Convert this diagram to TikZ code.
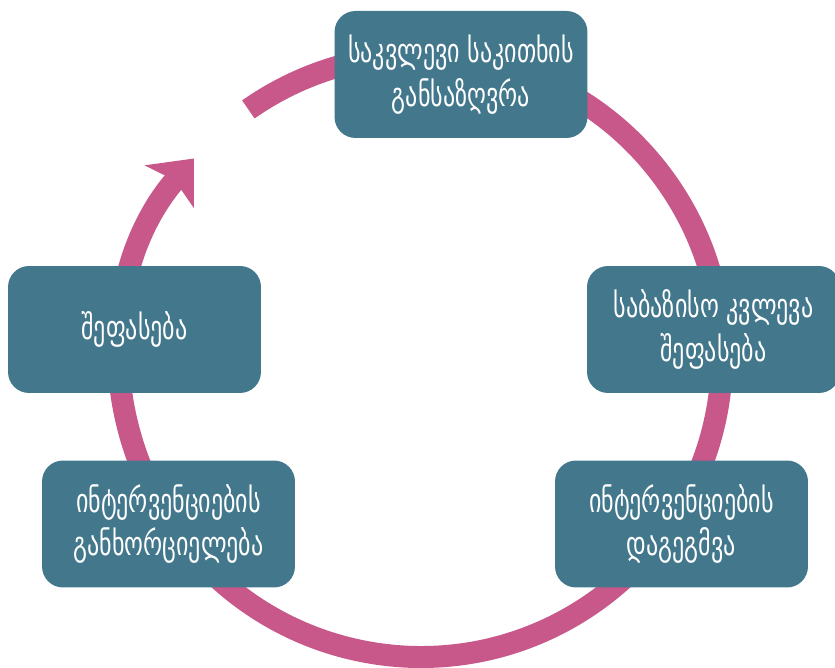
\documentclass[tikz,border=0pt]{standalone}
\usepackage{fontspec}
\usepackage{xcolor}
\usetikzlibrary{arrows.meta,calc,positioning}
\newfontfamily\geofont[Script=Georgian,FakeStretch=0.8]{DejaVu Sans Condensed}
\definecolor{boxteal}{HTML}{42778C}
\definecolor{ringpink}{HTML}{C8588A}

\begin{document}
\begin{tikzpicture}[x=0.02cm,y=0.02cm]
			\tikzstyle{stage}=[fill=boxteal,draw=none,rounded corners=0.42cm,minimum width=5.06cm,minimum height=2.54cm,text=white,align=center,font=\geofont\fontsize{19}{25}\selectfont]
			\tikzstyle{ring}=[draw=ringpink,line width=0.44cm]
			
			\clip (0,0) rectangle (835,668);
			\coordinate (c) at (421,312);
			\draw[ring,-{Stealth[length=0.74cm,width=1.28cm,inset=0.16cm]}] ($(c)+(125:301)$) arc[start angle=125,end angle=-221,radius=301];
			
			\node[stage] (define) at (461,593.5) {საკვლევი საკითხის\\განსაზღვრა};
			\node[stage] (baseline) at (713.5,338.5) {საბაზისო კვლევა\\შეფასება};
			\node[stage] (plan) at (681.5,144) {ინტერვენციების\\დაგეგმვა};
			\node[stage] (implement) at (168.5,144) {ინტერვენციების\\განხორციელება};
			\node[stage] (evaluate) at (134.5,338.5) {შეფასება};
		\end{tikzpicture}
\end{document}
